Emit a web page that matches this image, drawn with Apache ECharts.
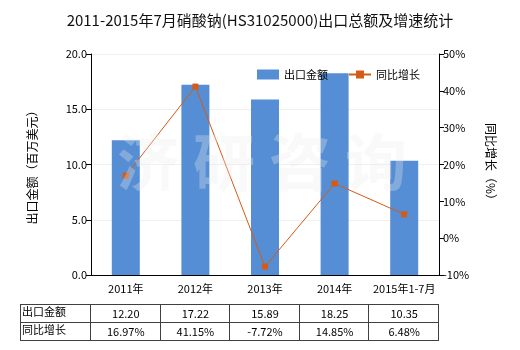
<!DOCTYPE html>
<html><head><meta charset="utf-8">
<script src="https://cdn.jsdelivr.net/npm/echarts@6/dist/echarts.min.js"></script>
<style>html,body{margin:0;padding:0;background:#fff}#c{width:520px;height:350px}</style>
</head><body><div id="c"></div>
<script>
var categories = ['2011年','2012年','2013年','2014年','2015年1-7月'];
var exportValues = [12.20, 17.22, 15.89, 18.25, 10.35];
var growthValues = [16.97, 41.15, -7.72, 14.85, 6.48];
var exportLabels = ['12.20','17.22','15.89','18.25','10.35'];
var growthLabels = ['16.97%','41.15%','-7.72%','14.85%','6.48%'];
var rowNames = ['出口金额','同比增长'];

var FONT = '"Noto Sans CJK SC", "Noto Sans", sans-serif';
var G = {left: 91, right: 439, top: 54, bottom: 275};
var chart = echarts.init(document.getElementById('c'));

var graphics = [];
// table
var tLeft = 20, tTop = 304, rowH = 18;
var colW = (G.right - G.left) / categories.length;
var tRight = G.right;
var lineStyle = {stroke: '#404040', lineWidth: 1};
function hline(y){ graphics.push({type:'line', shape:{x1:tLeft, y1:y, x2:tRight, y2:y}, style:lineStyle, silent:true}); }
function vline(x){ graphics.push({type:'line', shape:{x1:x, y1:tTop, x2:x, y2:tTop+2*rowH}, style:lineStyle, silent:true}); }
hline(tTop + 0.5); hline(tTop + rowH + 0.5); hline(tTop + 2*rowH + 0.5);
vline(tLeft + 0.5);
for (var i = 0; i <= categories.length; i++) vline(Math.round(G.left + i*colW) - 0.5);
var rows = [exportLabels, growthLabels];
for (var r = 0; r < 2; r++) {
  graphics.push({type:'text', left: tLeft + 2, top: tTop + r*rowH + 2,
    style:{text: rowNames[r], font: '11px ' + FONT, fill:'#000'}, silent:true});
  for (var j = 0; j < categories.length; j++) {
    graphics.push({type:'text', x: G.left + (j+0.5)*colW, y: tTop + r*rowH + rowH/2 + 1,
      style:{text: rows[r][j], font: '11px ' + FONT, fill:'#000', textAlign:'center', textVerticalAlign:'middle'}, silent:true});
  }
}
// watermark
graphics.push({type:'text', x: 262, y: 162, z: 100,
  style:{text:'济 研 咨 询', font:'bold 62px ' + FONT, fill:'rgba(235,235,235,0.3)', textAlign:'center', textVerticalAlign:'middle'}, silent:true});

chart.setOption({
  animation: false,
  title: {text: '2011-2015年7月硝酸钠(HS31025000)出口总额及增速统计', left: 'center', top: 8,
    textStyle: {fontSize: 15, fontWeight: 'normal', color: '#111', fontFamily: FONT}},
  legend: {top: 64, left: 252, itemGap: 20, itemWidth: 22, itemHeight: 10,
    textStyle: {fontSize: 11, color: '#000', fontFamily: FONT},
    data: [{name:'出口金额', icon:'rect'}, {name:'同比增长'}]},
  grid: {left: G.left, right: 520 - G.right, top: G.top, bottom: 350 - G.bottom},
  xAxis: {type: 'category', data: categories,
    axisLine: {lineStyle: {color: '#000'}},
    axisTick: {alignWithLabel: true, length: 5, lineStyle: {color: '#000'}},
    axisLabel: {interval: 0, fontSize: 11, color: '#000', fontFamily: FONT, margin: 8}},
  yAxis: [
    {type: 'value', min: 0, max: 20, interval: 5, name: '出口金额（百万美元）',
     nameLocation: 'middle', nameGap: 53, nameRotate: 90,
     nameTextStyle: {fontSize: 12, color: '#000', fontFamily: FONT},
     axisLine: {show: true, lineStyle: {color: '#000'}},
     axisTick: {show: true, length: 5, lineStyle: {color: '#000'}},
     axisLabel: {fontSize: 11, color: '#000', fontFamily: FONT, margin: 4, formatter: function(v){return v.toFixed(1);}},
     splitLine: {show: true, lineStyle: {color: '#f0f0f0'}}},
    {type: 'value', min: -10, max: 50, interval: 10, name: '同比增长（%）',
     nameLocation: 'middle', nameGap: 46, nameRotate: -90,
     nameTextStyle: {fontSize: 12, color: '#000', fontFamily: FONT},
     axisLine: {show: true, lineStyle: {color: '#000'}},
     axisTick: {show: true, length: 5, lineStyle: {color: '#000'}},
     axisLabel: {fontSize: 11, color: '#000', fontFamily: FONT, margin: 4, formatter: '{value}%'},
     splitLine: {show: false}}
  ],
  series: [
    {name: '出口金额', type: 'bar', data: exportValues, barWidth: 28,
     itemStyle: {color: '#558ED5'}},
    {name: '同比增长', type: 'line', yAxisIndex: 1, data: growthValues,
     symbol: 'rect', symbolSize: 6, showAllSymbol: true,
     lineStyle: {color: '#D55A15', width: 1},
     itemStyle: {color: '#D55A15'}}
  ],
  graphic: graphics
});
</script></body></html>
